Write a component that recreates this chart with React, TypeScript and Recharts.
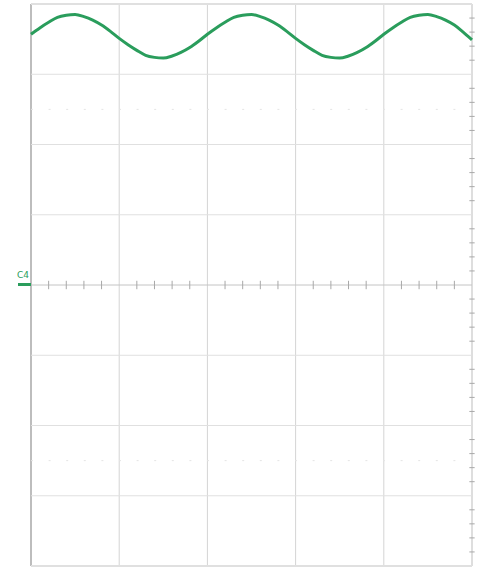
import React from 'react';
import { LineChart, Line, XAxis, YAxis, ReferenceLine } from 'recharts';

// time axis: 5 divisions of 10 units; voltage axis: 8 divisions (-4..4)
const times = [
  0, 1, 2, 3, 4, 5, 6, 7, 8, 9, 10, 11, 12, 13, 14, 15, 16, 17, 18, 19, 20, 21, 22, 23, 24, 25,
  26, 27, 28, 29, 30, 31, 32, 33, 34, 35, 36, 37, 38, 39, 40, 41, 42, 43, 44, 45, 46, 47, 48, 49, 50,
];
const volts = [
  3.57, 3.66, 3.74, 3.81, 3.84, 3.85, 3.82, 3.77, 3.70, 3.61, 3.51, 3.42, 3.34, 3.27, 3.24, 3.23,
  3.26, 3.31, 3.38, 3.47, 3.57, 3.66, 3.74, 3.81, 3.84, 3.85, 3.82, 3.77, 3.70, 3.61, 3.51, 3.42,
  3.34, 3.27, 3.24, 3.23, 3.26, 3.31, 3.38, 3.47, 3.57, 3.66, 3.74, 3.81, 3.84, 3.85, 3.82, 3.77,
  3.70, 3.60, 3.49,
];
const xGrid = [0, 10, 20, 30, 40, 50];
const yGrid = [-4, -3, -2, -1, 0, 1, 2, 3, 4];
const xMinor = [2, 4, 6, 8, 12, 14, 16, 18, 22, 24, 26, 28, 32, 34, 36, 38, 42, 44, 46, 48];
const yMinor = [
  -3.8, -3.6, -3.4, -3.2, -2.8, -2.6, -2.4, -2.2, -1.8, -1.6, -1.4, -1.2, -0.8, -0.6, -0.4, -0.2,
  0.2, 0.4, 0.6, 0.8, 1.2, 1.4, 1.6, 1.8, 2.2, 2.4, 2.6, 2.8, 3.2, 3.4, 3.6, 3.8,
];
const dotRows = [2.5, -2.5];

const data = times.map((t, i) => ({ t, v: volts[i] }));

const GREEN = '#2a9d5c';

export default function App() {
  return (
    <div style={{ position: 'absolute', left: 0, top: 0, width: 487, height: 569, background: '#fff' }}>
      <LineChart width={487} height={569} data={data} margin={{ top: 4, right: 15, bottom: 3, left: 31 }}>
        <XAxis dataKey="t" type="number" domain={[0, 50]} hide />
        <YAxis type="number" domain={[-4, 4]} hide />
        {xGrid.map((x) => (
          <ReferenceLine key={'gx' + x} x={x} stroke={x === 0 || x === 50 ? '#bdbdbd' : '#d4d4d4'} strokeWidth={x === 0 ? 2 : 1} />
        ))}
        {yGrid.map((y) => (
          <ReferenceLine key={'gy' + y} y={y} stroke={y === 0 ? '#c4c4c4' : '#e0e0e0'} strokeWidth={y === -4 || y === 4 ? 2 : 1} />
        ))}
        {dotRows.map((y) => (
          <ReferenceLine key={'dr' + y} y={y} stroke="#e4e4e4" strokeDasharray="2 15.6" />
        ))}
        {xMinor.map((x) => (
          <ReferenceLine
            key={'mx' + x}
            segment={[
              { x, y: -0.06 },
              { x, y: 0.06 },
            ]}
            stroke="#a8a8a8"
          />
        ))}
        {yMinor.map((y) => (
          <ReferenceLine
            key={'my' + y}
            segment={[
              { x: 49.7, y },
              { x: 50.3, y },
            ]}
            stroke="#a8a8a8"
            ifOverflow="visible"
          />
        ))}
        <Line
          type="monotone"
          dataKey="v"
          stroke={GREEN}
          strokeWidth={3}
          dot={false}
          isAnimationActive={false}
        />
      </LineChart>
      <div
        style={{
          position: 'absolute',
          left: 17,
          top: 270,
          fontFamily: 'DejaVu Sans, sans-serif',
          fontSize: 9,
          color: GREEN,
        }}
      >
        C4
      </div>
      <div style={{ position: 'absolute', left: 18, top: 283, width: 13, height: 3, background: GREEN }} />
    </div>
  );
}
